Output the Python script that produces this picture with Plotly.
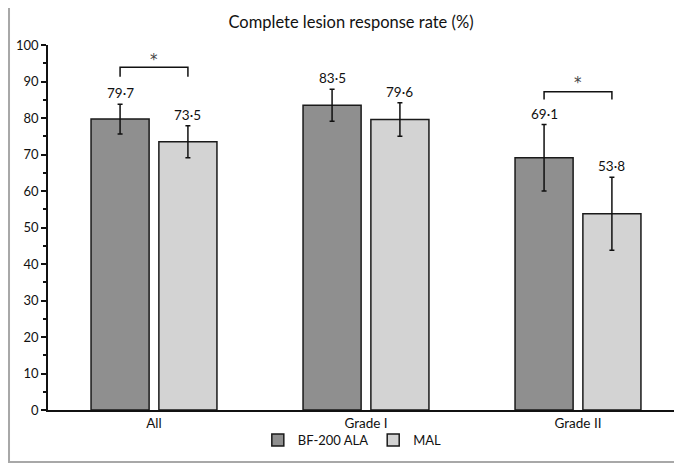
import plotly.graph_objects as go

categories = ["All", "Grade I", "Grade II"]
bf_values = [79.7, 83.5, 69.1]
bf_err = [4.1, 4.4, 9.1]
mal_values = [73.5, 79.6, 53.8]
mal_err = [4.4, 4.6, 10.0]
bf_labels = ["79·7", "83·5", "69·1"]
mal_labels = ["73·5", "79·6", "53·8"]
# significance brackets: category index, bracket top, tip bottom, star height
sig_cats = [0, 2]
sig_top = [93.9, 87.2]
sig_tip = [91.3, 85.1]
sig_star = [96.7, 90.4]

FONT = "Lato"
BARGAP = 0.36
GROUPGAP = 0.144
slot = (1 - BARGAP) / 2
off = slot / 2

fig = go.Figure()
fig.add_trace(go.Bar(
    name="BF-200 ALA", x=categories, y=bf_values,
    marker=dict(color="#8f8f8f", line=dict(color="#1a1a1a", width=1.5)),
    error_y=dict(type="data", array=bf_err, visible=True, color="#111", thickness=1.5, width=2.5),
))
fig.add_trace(go.Bar(
    name="MAL", x=categories, y=mal_values,
    marker=dict(color="#d3d3d3", line=dict(color="#1a1a1a", width=1.5)),
    error_y=dict(type="data", array=mal_err, visible=True, color="#111", thickness=1.5, width=2.5),
))

annotations = []
for i in range(len(categories)):
    annotations.append(dict(x=i - off, y=bf_values[i] + bf_err[i], xref="x", yref="y",
                            text=bf_labels[i], showarrow=False, yshift=11, yanchor="middle",
                            font=dict(family=FONT, size=13.5, color="#111")))
    annotations.append(dict(x=i + off, y=mal_values[i] + mal_err[i], xref="x", yref="y",
                            text=mal_labels[i], showarrow=False, yshift=11, yanchor="middle",
                            font=dict(family=FONT, size=13.5, color="#111")))

shapes = []
for c, top, tip, star in zip(sig_cats, sig_top, sig_tip, sig_star):
    x0, x1 = c - off, c + off
    shapes.append(dict(type="path", xref="x", yref="y",
                       path=f"M {x0} {tip} L {x0} {top} L {x1} {top} L {x1} {tip}",
                       line=dict(color="#111", width=1.5)))
    annotations.append(dict(x=c, y=star, xref="x", yref="y", text="*", showarrow=False,
                            yanchor="middle", yshift=-3,
                            font=dict(family="DejaVu Sans", size=15, color="#444")))

# outer chart frame
shapes.append(dict(type="rect", xref="paper", yref="paper",
                   x0=-0.0615, x1=1.05, y0=-0.1425, y1=1.2,
                   line=dict(color="#a8a8a8", width=2), layer="below"))

fig.update_layout(
    width=682, height=463,
    margin=dict(l=40, r=8, t=37, b=61, autoexpand=False),
    paper_bgcolor="white", plot_bgcolor="white",
    barmode="group", bargap=BARGAP, bargroupgap=GROUPGAP,
    title=dict(text="Complete lesion response rate (%)", x=0.503, xanchor="center",
               y=1 - 14 / 463, yanchor="middle", yref="container",
               font=dict(family=FONT, size=16.5, color="#111")),
    font=dict(family=FONT, size=13, color="#111"),
    showlegend=True,
    legend=dict(orientation="h", x=0.48, xanchor="center", y=-0.082, yanchor="middle",
                font=dict(family=FONT, size=13, color="#111"),
                itemwidth=30, tracegroupgap=0, bgcolor="rgba(0,0,0,0)"),
    xaxis=dict(type="category", range=[-0.5, 2.4906], showline=True, linecolor="#111",
               linewidth=1.5, ticks="", showgrid=False, zeroline=False,
               tickfont=dict(family=FONT, size=13.5, color="#111")),
    yaxis=dict(range=[0, 100], dtick=10, tick0=0, showline=True, linecolor="#111",
               linewidth=1.5, ticks="outside", ticklen=5, tickwidth=1.5, tickcolor="#111",
               showgrid=False, zeroline=False,
               minor=dict(dtick=5, ticks="outside", ticklen=3, tickwidth=1.5, tickcolor="#111"),
               tickfont=dict(family=FONT, size=13, color="#111")),
    annotations=annotations,
    shapes=shapes,
)

fig.write_html("out.html")
